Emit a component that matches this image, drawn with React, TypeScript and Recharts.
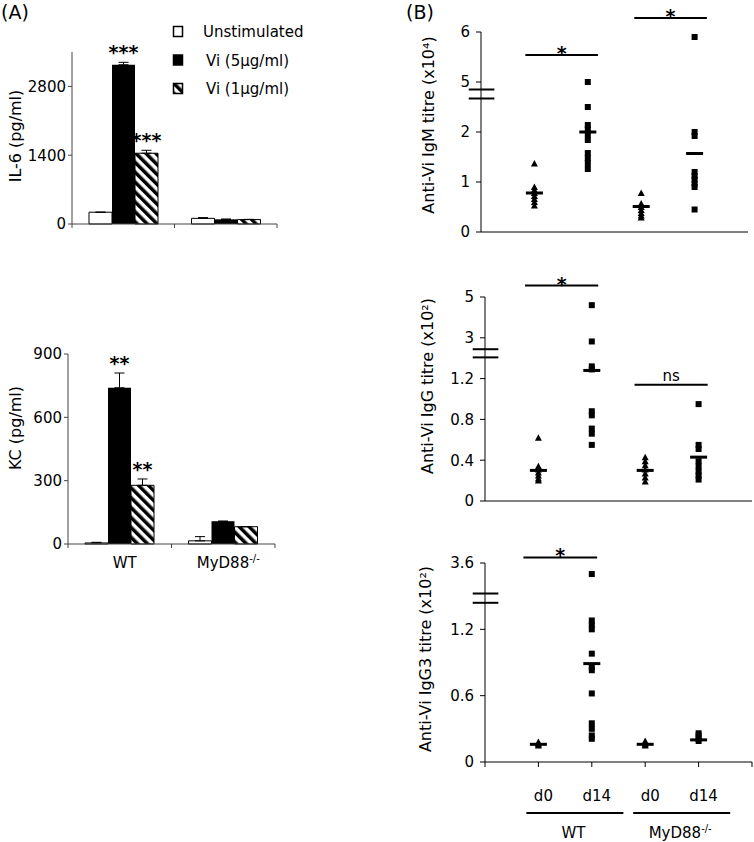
import {
  BarChart,
  Bar,
  XAxis,
  YAxis,
  ErrorBar,
  LabelList,
  Legend,
  ScatterChart,
  Scatter,
  ReferenceLine,
} from 'recharts';

const FONT = "'DejaVu Sans', Verdana, sans-serif";
const AXIS_A = '#444';

// ---------- panel A: cytokines (pg/ml) ----------
const GROUPS = ['WT', 'MyD88-/-'];
const SERIES = ['Unstimulated', 'Vi (5µg/ml)', 'Vi (1µg/ml)'];

const IL6_UNSTIM = [240, 115];
const IL6_VI5 = [3240, 95];
const IL6_VI1 = [1440, 90];
const IL6_UNSTIM_ERR = [0, 15];
const IL6_VI5_ERR = [50, 5];
const IL6_VI1_ERR = [60, 5];
const IL6_STARS_VI5 = ['***', ''];
const IL6_STARS_VI1 = ['***', ''];
const IL6_TICKS = [0, 1400, 2800];

const KC_UNSTIM = [5, 15];
const KC_VI5 = [740, 108];
const KC_VI1 = [278, 82];
const KC_UNSTIM_ERR = [3, 20];
const KC_VI5_ERR = [70, 0];
const KC_VI1_ERR = [30, 0];
const KC_STARS_VI5 = ['**', ''];
const KC_STARS_VI1 = ['**', ''];
const KC_TICKS = [0, 300, 600, 900];

// ---------- panel B: anti-Vi titres ----------
const DAY_LABELS = ['', 'd0', 'd14', 'd0', 'd14', ''];
// group name drawn under the first day of each group
const DAY_GROUP = ['', 'WT', '', 'MyD88-/-', '', ''];

const IGM_WT_D0 = [1.37, 0.9, 0.84, 0.78, 0.72, 0.66, 0.6, 0.53];
const IGM_WT_D14 = [5.0, 2.5, 2.14, 2.05, 1.95, 1.84, 1.58, 1.48, 1.38, 1.26];
const IGM_MYD_D0 = [0.78, 0.57, 0.5, 0.44, 0.38, 0.33, 0.29];
const IGM_MYD_D14 = [5.9, 2.0, 1.92, 1.2, 1.12, 1.05, 0.97, 0.9, 0.45];
const IGM_MEANS = [0.78, 2.0, 0.51, 1.57];
const IGM_TICK_LABELS = ['0', '1', '2', '5', '6'];

const IGG_WT_D0 = [0.62, 0.34, 0.31, 0.28, 0.25, 0.22, 0.2];
const IGG_WT_D14 = [4.6, 2.82, 1.32, 1.29, 0.88, 0.84, 0.71, 0.66, 0.55];
const IGG_MYD_D0 = [0.43, 0.39, 0.35, 0.31, 0.27, 0.23, 0.19];
const IGG_MYD_D14 = [0.95, 0.55, 0.51, 0.39, 0.34, 0.29, 0.25, 0.21];
const IGG_MEANS = [0.3, 1.28, 0.3, 0.43];
const IGG_TICK_LABELS = ['0', '0.4', '0.8', '1.2', '3', '5'];

const IGG3_WT_D0 = [0.18, 0.17, 0.16, 0.15];
const IGG3_WT_D14 = [3.5, 1.28, 1.24, 1.2, 0.98, 0.86, 0.83, 0.62, 0.35, 0.3, 0.24, 0.21];
const IGG3_MYD_D0 = [0.19, 0.17, 0.16, 0.15];
const IGG3_MYD_D14 = [0.26, 0.24, 0.21, 0.19];
const IGG3_MEANS = [0.16, 0.89, 0.16, 0.2];
const IGG3_TICK_LABELS = ['0', '0.6', '1.2', '3.6'];

// ---------- helpers ----------
const buildRows = (
  u: number[], v5: number[], v1: number[],
  ue: number[], e5: number[], e1: number[],
  s5: string[], s1: string[],
) =>
  GROUPS.map((g, i) => ({
    group: g,
    unstim: u[i],
    vi5: v5[i],
    vi1: v1[i],
    unstimErr: [0, ue[i]],
    vi5Err: [0, e5[i]],
    vi1Err: [0, e1[i]],
    sig5: s5[i],
    sig1: s1[i],
  }));

const starLabel = (vals: number[], errs: number[]) => (props: any) => {
  const vb = props.viewBox ?? props;
  const { x, y, width, height } = vb;
  const idx = props.index ?? 0;
  if (!props.value) return null;
  const top = y - (errs[idx] * height) / vals[idx];
  return (
    <text x={x + width / 2} y={top - 3} textAnchor="middle" fontSize={19} fontWeight="bold" fill="#000">
      {props.value}
    </text>
  );
};

const splitSup = (name: string) =>
  name.endsWith('-/-') ? [name.slice(0, -3), '-/-'] : [name, ''];

const GroupTick = (props: any) => {
  const { x, y, payload, show } = props;
  const half = payload?.offset || 51;
  const [base, sup] = splitSup(String(payload?.value ?? ''));
  return (
    <g>
      <line x1={x - half} x2={x - half} y1={y} y2={y + 4} stroke={AXIS_A} />
      <line x1={x + half} x2={x + half} y1={y} y2={y + 4} stroke={AXIS_A} />
      {show && (
        <text x={x + 5} y={y + 24} textAnchor="middle" fontSize={15} fill="#000">
          {base}
          {sup && (
            <tspan fontSize={10} dy={-6}>
              {sup}
            </tspan>
          )}
        </text>
      )}
    </g>
  );
};

const yTitle = (text: string, cx: number, cy: number) => () =>
  (
    <text
      x={cx}
      y={cy}
      transform={`rotate(-90 ${cx} ${cy})`}
      textAnchor="middle"
      dominantBaseline="central"
      fontSize={16}
      fill="#000"
    >
      {text}
    </text>
  );

const Hatch = ({ id }: { id: string }) => (
  <defs>
    <pattern id={id} patternUnits="userSpaceOnUse" width={7} height={7} patternTransform="rotate(-45)">
      <rect width={7} height={7} fill="#fff" />
      <rect width={3.5} height={7} fill="#000" />
    </pattern>
  </defs>
);

const FILLS = ['#fff', '#000', 'url(#hatchA)'];

const LegendBox = () => (
  <svg width={160} height={80} style={{ overflow: 'visible', fontFamily: FONT }}>
    {SERIES.map((s, i) => (
      <g key={s} transform={`translate(0, ${i * 28.5})`}>
        <rect x={5.5} y={3.5} width={9} height={10} fill={FILLS[i]} stroke="#000" strokeWidth={1.5} />
        <text x={i === 0 ? 35 : 38} y={14} fontSize={15} fill="#000">
          {s}
        </text>
      </g>
    ))}
  </svg>
);

type CytoProps = {
  top: number;
  height: number;
  margin: { top: number; right: number; bottom: number; left: number };
  yWidth: number;
  xHeight: number;
  rows: ReturnType<typeof buildRows>;
  vi5: number[];
  vi1: number[];
  e5: number[];
  e1: number[];
  max: number;
  ticks: number[];
  title: string;
  titleY: number;
  hatchId: string;
  showLabels?: boolean;
  legend?: boolean;
};

function CytokineChart(p: CytoProps) {
  return (
    <div style={{ position: 'absolute', left: 0, top: p.top }}>
      <BarChart width={330} height={p.height} data={p.rows} margin={p.margin} barSize={23} barGap={0}>
        <Hatch id={p.hatchId} />
        <XAxis
          dataKey="group"
          height={p.xHeight}
          stroke={AXIS_A}
          tickLine={false}
          tickSize={0}
          tickMargin={0}
          interval={0}
          tick={<GroupTick show={p.showLabels} />}
        />
        <YAxis
          width={p.yWidth}
          domain={[0, p.max]}
          ticks={p.ticks}
          stroke={AXIS_A}
          tickSize={4}
          tickMargin={2}
          tick={{ fontSize: 15, fill: '#000' }}
          label={yTitle(p.title, 15, p.titleY)}
        />
        {p.legend && (
          <Legend
            layout="vertical"
            align="center"
            verticalAlign="middle"
            content={<LegendBox />}
            wrapperStyle={{ left: 168, top: 23, width: 160, height: 80 }}
          />
        )}
        <Bar dataKey="unstim" fill="#fff" stroke="#000" strokeWidth={1} isAnimationActive={false}>
          <ErrorBar dataKey="unstimErr" width={5} stroke="#000" strokeWidth={1} direction="y" />
        </Bar>
        <Bar dataKey="vi5" fill="#000" isAnimationActive={false}>
          <ErrorBar dataKey="vi5Err" width={5} stroke="#000" strokeWidth={1} direction="y" />
          <LabelList dataKey="sig5" content={starLabel(p.vi5, p.e5)} />
        </Bar>
        <Bar dataKey="vi1" fill={`url(#${p.hatchId})`} stroke="#000" strokeWidth={1} isAnimationActive={false}>
          <ErrorBar dataKey="vi1Err" width={5} stroke="#000" strokeWidth={1} direction="y" />
          <LabelList dataKey="sig1" content={starLabel(p.vi1, p.e1)} />
        </Bar>
      </BarChart>
    </div>
  );
}

// ---------- panel B ----------
type Brk = { limit: number; lowStep: number; hiBase: number; hiPos: number; hiStep: number };
const makePos = (b: Brk) => (v: number) =>
  v <= b.limit ? v / b.lowStep : b.hiPos + (v - b.hiBase) / b.hiStep;

const Tri = (p: any) => (
  <polygon
    points={`${p.cx},${p.cy - 3.5} ${p.cx - 3.5},${p.cy + 3} ${p.cx + 3.5},${p.cy + 3}`}
    fill="#000"
  />
);
const Sq = (p: any) => <rect x={p.cx - 3} y={p.cy - 3} width={6} height={6} fill="#000" />;
const MeanBar = (p: any) => <rect x={p.cx - 8.5} y={p.cy - 1.5} width={17} height={3} fill="#000" />;

const sigLabel = (text: string) => (props: any) => {
  const vb = props.viewBox ?? {};
  const cx = (vb.x ?? 0) + (vb.width ?? 0) / 2;
  if (text === '*') {
    return (
      <text x={cx} y={vb.y + 5} textAnchor="middle" fontSize={19} fontWeight="bold" fill="#000">
        *
      </text>
    );
  }
  return (
    <text x={cx} y={vb.y - 4} textAnchor="middle" fontSize={15} fill="#000">
      {text}
    </text>
  );
};

const DayTick = (props: any) => {
  const { x, y, payload } = props;
  const v = payload?.value ?? 0;
  const [base, sup] = splitSup(DAY_GROUP[v] ?? '');
  return (
    <g>
      <text x={x + 5} y={y + 32} textAnchor="middle" fontSize={15} fill="#000">
        {DAY_LABELS[v] ?? ''}
      </text>
      {base && (
        <g>
          <line x1={x - 12} x2={x + 85} y1={y + 44} y2={y + 44} stroke="#000" strokeWidth={2} />
          <text x={x + 35} y={y + 69} textAnchor="middle" fontSize={15} fill="#000">
            {base}
            {sup && (
              <tspan fontSize={10} dy={-6}>
                {sup}
              </tspan>
            )}
          </text>
        </g>
      )}
    </g>
  );
};

type Sig = { from: number; to: number; level: number; text: string };

type TitreProps = {
  top: number;
  height: number;
  margin: { top: number; right: number; bottom: number; left: number };
  yWidth: number;
  brk: Brk;
  tickLabels: string[];
  wtD0: number[];
  wtD14: number[];
  myD0: number[];
  myD14: number[];
  means: number[];
  sigs: Sig[];
  breaks: number[];
  title: string;
  titleX: number;
  titleY: number;
  days?: boolean;
};

function TitreChart(p: TitreProps) {
  const pos = makePos(p.brk);
  const tri = [
    ...p.wtD0.map((v) => ({ x: 1, y: pos(v) })),
    ...p.myD0.map((v) => ({ x: 3, y: pos(v) })),
  ];
  const sq = [
    ...p.wtD14.map((v) => ({ x: 2, y: pos(v) })),
    ...p.myD14.map((v) => ({ x: 4, y: pos(v) })),
  ];
  const means = p.means.map((v, i) => ({ x: i + 1, y: pos(v) }));
  const yTicks = p.tickLabels.map((_, i) => i);
  return (
    <div style={{ position: 'absolute', left: 390, top: p.top }}>
      <ScatterChart width={364} height={p.height} margin={p.margin}>
        <XAxis
          type="number"
          dataKey="x"
          domain={[0, 5]}
          ticks={[0, 1, 2, 3, 4, 5]}
          interval={0}
          height={p.days ? 75 : 10}
          stroke="#000"
          tickSize={5}
          tickMargin={2}
          tick={p.days ? <DayTick /> : false}
        />
        <YAxis
          type="number"
          dataKey="y"
          width={p.yWidth}
          domain={[0, yTicks.length - 1]}
          ticks={yTicks}
          interval={0}
          tickFormatter={(v: number) => p.tickLabels[v] ?? ''}
          stroke="#000"
          tickSize={5}
          tickMargin={6}
          tick={{ fontSize: 15, fill: '#000' }}
          label={yTitle(p.title, p.titleX, p.titleY)}
        />
        {p.breaks.map((b) => (
          <ReferenceLine
            key={b}
            segment={[
              { x: -0.23, y: b },
              { x: 0.25, y: b },
            ]}
            stroke="#000"
            strokeWidth={2}
            ifOverflow="visible"
          />
        ))}
        {p.sigs.map((s) => (
          <ReferenceLine
            key={`${s.from}-${s.text}`}
            segment={[
              { x: s.from, y: pos(s.level) },
              { x: s.to, y: pos(s.level) },
            ]}
            stroke="#000"
            strokeWidth={2}
            ifOverflow="visible"
            label={sigLabel(s.text)}
          />
        ))}
        <Scatter data={tri} shape={Tri} isAnimationActive={false} />
        <Scatter data={sq} shape={Sq} isAnimationActive={false} />
        <Scatter data={means} shape={MeanBar} isAnimationActive={false} />
      </ScatterChart>
    </div>
  );
}

export default function App() {
  const il6Rows = buildRows(
    IL6_UNSTIM, IL6_VI5, IL6_VI1, IL6_UNSTIM_ERR, IL6_VI5_ERR, IL6_VI1_ERR, IL6_STARS_VI5, IL6_STARS_VI1,
  );
  const kcRows = buildRows(
    KC_UNSTIM, KC_VI5, KC_VI1, KC_UNSTIM_ERR, KC_VI5_ERR, KC_VI1_ERR, KC_STARS_VI5, KC_STARS_VI1,
  );
  return (
    <div
      style={{
        position: 'absolute',
        left: 0,
        top: 0,
        width: 754,
        height: 842,
        background: '#fff',
        fontFamily: FONT,
        overflow: 'hidden',
      }}
    >
      <div style={{ position: 'absolute', left: 1, top: 0, fontSize: 19, lineHeight: '24px' }}>(A)</div>
      <div style={{ position: 'absolute', left: 406, top: 0, fontSize: 19, lineHeight: '24px' }}>(B)</div>

      <CytokineChart
        top={0}
        height={260}
        margin={{ top: 52, right: 53, bottom: 26, left: 0 }}
        yWidth={72}
        xHeight={10}
        rows={il6Rows}
        vi5={IL6_VI5}
        vi1={IL6_VI1}
        e5={IL6_VI5_ERR}
        e1={IL6_VI1_ERR}
        max={3500}
        ticks={IL6_TICKS}
        title="IL-6 (pg/ml)"
        titleY={136}
        hatchId="hatchA"
        legend
      />
      <CytokineChart
        top={280}
        height={300}
        margin={{ top: 74, right: 55, bottom: 6, left: 0 }}
        yWidth={68}
        xHeight={30}
        rows={kcRows}
        vi5={KC_VI5}
        vi1={KC_VI1}
        e5={KC_VI5_ERR}
        e1={KC_VI1_ERR}
        max={900}
        ticks={KC_TICKS}
        title="KC (pg/ml)"
        titleY={148}
        hatchId="hatchB"
        showLabels
      />

      <TitreChart
        top={0}
        height={260}
        margin={{ top: 32, right: 6, bottom: 18, left: 0 }}
        yWidth={91}
        brk={{ limit: 3, lowStep: 1, hiBase: 5, hiPos: 3, hiStep: 1 }}
        tickLabels={IGM_TICK_LABELS}
        wtD0={IGM_WT_D0}
        wtD14={IGM_WT_D14}
        myD0={IGM_MYD_D0}
        myD14={IGM_MYD_D14}
        means={IGM_MEANS}
        sigs={[
          { from: 0.83, to: 2.19, level: 5.54, text: '*' },
          { from: 2.87, to: 4.23, level: 6.28, text: '*' },
        ]}
        breaks={[2.67, 2.85]}
        title="Anti-Vi IgM titre (x10⁴)"
        titleX={38}
        titleY={125}
      />
      <TitreChart
        top={250}
        height={270}
        margin={{ top: 47, right: 2, bottom: 9, left: 0 }}
        yWidth={95}
        brk={{ limit: 2, lowStep: 0.4, hiBase: 3, hiPos: 4, hiStep: 2 }}
        tickLabels={IGG_TICK_LABELS}
        wtD0={IGG_WT_D0}
        wtD14={IGG_WT_D14}
        myD0={IGG_MYD_D0}
        myD14={IGG_MYD_D14}
        means={IGG_MEANS}
        sigs={[
          { from: 0.75, to: 2.12, level: 5.56, text: '*' },
          { from: 2.8, to: 4.17, level: 1.14, text: 'ns' },
        ]}
        breaks={[3.52, 3.72]}
        title="Anti-Vi IgG titre (x10²)"
        titleX={37}
        titleY={136}
      />
      <TitreChart
        top={520}
        height={322}
        margin={{ top: 43, right: 2, bottom: 5, left: 0 }}
        yWidth={95}
        brk={{ limit: 2, lowStep: 0.6, hiBase: 3.6, hiPos: 3, hiStep: 0.6 }}
        tickLabels={IGG3_TICK_LABELS}
        wtD0={IGG3_WT_D0}
        wtD14={IGG3_WT_D14}
        myD0={IGG3_MYD_D0}
        myD14={IGG3_MYD_D14}
        means={IGG3_MEANS}
        sigs={[{ from: 0.72, to: 2.1, level: 3.65, text: '*' }]}
        breaks={[2.4, 2.54]}
        title="Anti-Vi IgG3 titre (x10²)"
        titleX={35}
        titleY={139}
        days
      />
    </div>
  );
}
